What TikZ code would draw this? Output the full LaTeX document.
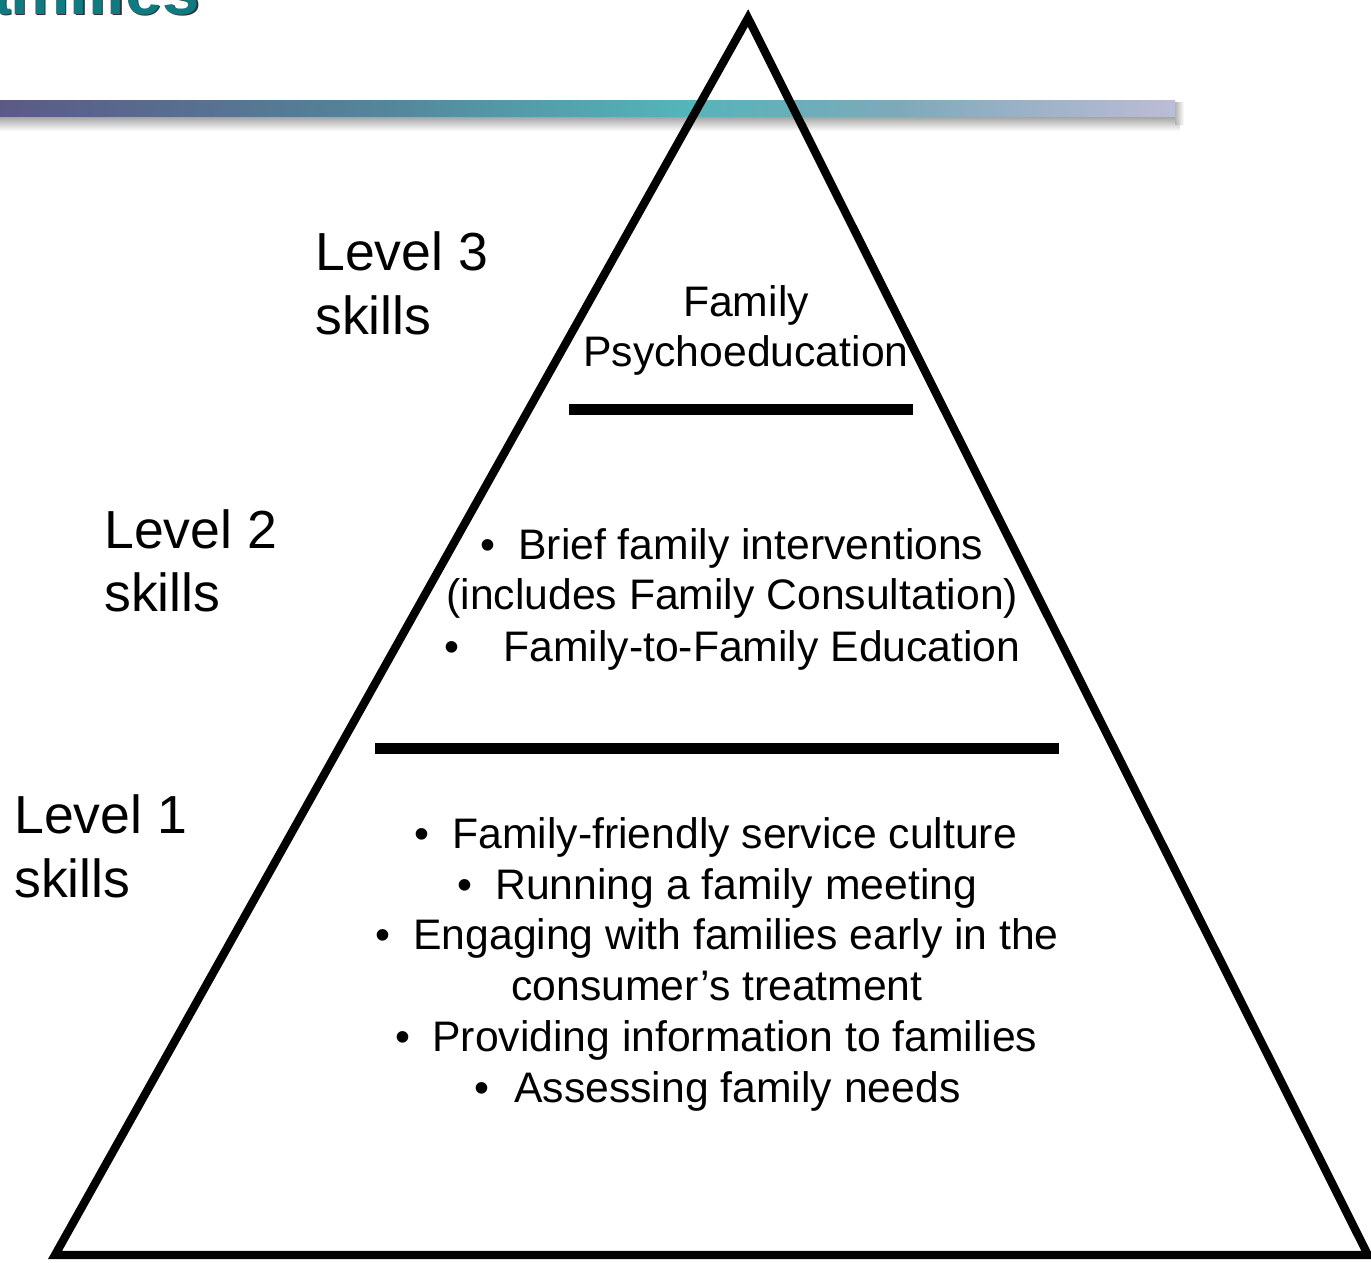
\documentclass[tikz,border=0pt]{standalone}
\usepackage{fontspec}
\setmainfont{Liberation Sans}
\definecolor{titleteal}{HTML}{0F7A80}
\definecolor{gA}{HTML}{5B5A85}
\definecolor{gB}{HTML}{54889B}
\definecolor{gC}{HTML}{53B5B8}
\definecolor{gD}{HTML}{7FA9BB}
\definecolor{gE}{HTML}{BCBCD5}
\newcommand{\bulbox}[1]{\makebox[#1][l]{•}}
\begin{document}
\begin{tikzpicture}[x=0.02cm,y=-0.02cm,
  body/.style={font=\fontsize{24.3}{28}\selectfont, inner sep=0pt},
  lvl/.style={font=\fontsize{30.5}{36}\selectfont, inner sep=0pt, anchor=base west},
  titlefont/.style={font=\fontsize{38}{40}\selectfont\bfseries, inner sep=0pt, anchor=base east},
  tri/.style={draw=black, line width=0.165cm, line join=miter},
  divider/.style={draw=black, line width=0.22cm}]
\useasboundingbox (0,0) rectangle (1371,1262);
\clip (0,0) rectangle (1371,1262);
% title fragment
\node[titlefont, text=black!80] (titleshadow) at (201.5,15.5) {Families};
\node[titlefont, text=titleteal] (title) at (200,14) {Families};
% bar shadow
\shade[top color=black!38, bottom color=white] (0,116) rectangle (1180,131);
\shade[left color=black!30, right color=white] (1175,102) rectangle (1184,124);
% gradient bar
\shade[left color=gA, right color=gB] (0,100) rectangle (401,116);
\shade[left color=gB, right color=gC] (400,100) rectangle (681,116);
\shade[left color=gC, right color=gD] (680,100) rectangle (901,116);
\shade[left color=gD, right color=gE] (900,100) rectangle (1175,116);
% triangle
\coordinate (apex) at (748,18);
\coordinate (br) at (1368,1255);
\coordinate (bl) at (55,1255);
\draw[tri] (apex) -- (br) -- (bl) -- cycle;
% dividers
\coordinate (d1l) at (569,409);
\coordinate (d1r) at (913,409);
\coordinate (d2l) at (375,748);
\coordinate (d2r) at (1059,748);
\draw[divider] (d1l) -- (d1r);
\draw[divider] (d2l) -- (d2r);
% level labels
\node[lvl] (l3a) at (315,270) {Level 3};
\node[lvl] (l3b) at (315,334) {skills};
\node[lvl] (l2a) at (104,548) {Level 2};
\node[lvl] (l2b) at (104,611) {skills};
\node[lvl] (l1a) at (14,833) {Level 1};
\node[lvl] (l1b) at (14,897) {skills};
% level 3 content
\node[body, anchor=base] (t3a) at (746,316) {Family};
\node[body, anchor=base] (t3b) at (746,366) {Psychoeducation};
% level 2 content
\node[body, anchor=base west] (t2a) at (480,559) {\bulbox{0.76cm}Brief family interventions};
\node[body, anchor=base west] (t2b) at (446,609) {(includes Family Consultation)};
\node[body, anchor=base west] (t2c) at (444,661) {\bulbox{1.18cm}Family-to-Family Education};
% level 1 content
\node[body, anchor=base west] (t1a) at (414,848) {\bulbox{0.76cm}Family-friendly service culture};
\node[body, anchor=base west] (t1b) at (457,899) {\bulbox{0.76cm}Running a family meeting};
\node[body, anchor=base west] (t1c) at (375,949) {\bulbox{0.76cm}Engaging with families early in the};
\node[body, anchor=base west] (t1d) at (511,1000) {consumer’s treatment};
\node[body, anchor=base west] (t1e) at (395,1051) {\bulbox{0.74cm}Providing information to families};
\node[body, anchor=base west] (t1f) at (474,1102) {\bulbox{0.8cm}Assessing family needs};
\end{tikzpicture}
\end{document}
